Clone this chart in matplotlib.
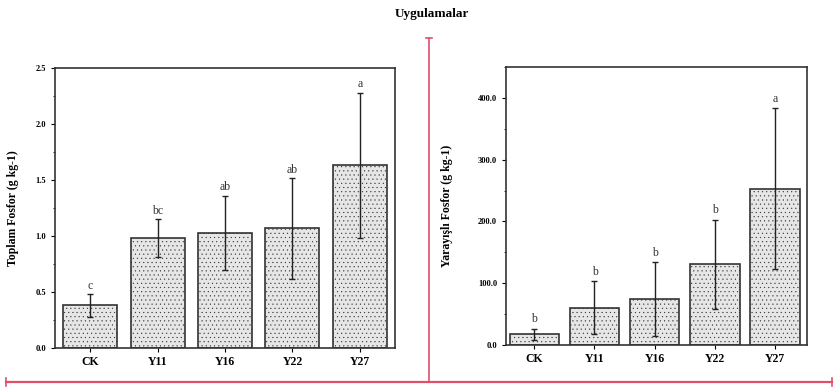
import matplotlib.pyplot as plt
from matplotlib.lines import Line2D
from matplotlib.ticker import MultipleLocator, FormatStrFormatter

plt.rcParams['font.family'] = ['Liberation Serif', 'DejaVu Serif']
plt.rcParams['font.weight'] = 'bold'
plt.rcParams['hatch.color'] = '#c4c4c4'
plt.rcParams['hatch.linewidth'] = 0.3

groups = ['CK', 'Y11', 'Y16', 'Y22', 'Y27']

# Toplam Fosfor
tp_mean = [0.38, 0.98, 1.03, 1.07, 1.63]
tp_err = [0.10, 0.17, 0.33, 0.45, 0.65]
tp_letters = ['c', 'bc', 'ab', 'ab', 'a']

# Yarayisli Fosfor
yp_mean = [17, 60, 74, 131, 253]
yp_err = [9, 43, 60, 72, 130]
yp_letters = ['b', 'b', 'b', 'b', 'a']

W, H = 835, 388
fig = plt.figure(figsize=(W / 100, H / 100), dpi=100)

ax1 = fig.add_axes([55 / W, 1 - 348 / H, 340 / W, 280 / H])
ax2 = fig.add_axes([506 / W, 1 - 345 / H, 301 / W, 278 / H])

red = '#e0506a'


def draw_panel(ax, mean, err, letters, ylim, major, minor, fmt, ylabel, pad, width, xlim):
    x = range(1, len(groups) + 1)
    ax.bar(x, mean, width=width, color='#e6e6e6', edgecolor='#333333',
           linewidth=1.2, hatch='....')
    ax.errorbar(x, mean, yerr=err, fmt='none', ecolor='#222222',
                elinewidth=1.0, capsize=2.5, capthick=1.0)
    for xi, m, e, t in zip(x, mean, err, letters):
        ax.text(xi, m + e + pad, t, ha='center', va='bottom', fontsize=8.5,
                fontweight='normal', color='#333333')
    ax.set_xlim(*xlim)
    ax.set_ylim(*ylim)
    ax.set_xticks(list(x))
    ax.set_xticklabels(groups, fontsize=8.5, fontweight='bold')
    ax.yaxis.set_major_locator(MultipleLocator(major))
    ax.yaxis.set_minor_locator(MultipleLocator(minor))
    ax.yaxis.set_major_formatter(FormatStrFormatter(fmt))
    ax.tick_params(axis='y', labelsize=6, length=3, width=0.8)
    ax.tick_params(axis='y', which='minor', length=1.5, width=0.6)
    ax.tick_params(axis='x', length=3, width=0.8, pad=3)
    for s in ax.spines.values():
        s.set_linewidth(1.2)
        s.set_color('#333333')
    ax.set_ylabel(ylabel, fontsize=8.5, fontweight='bold')


draw_panel(ax1, tp_mean, tp_err, tp_letters, (0, 2.5), 0.5, 0.25, '%.1f',
           'Toplam Fosfor (g kg-1)', 0.02, 0.8, (0.48, 5.52))
draw_panel(ax2, yp_mean, yp_err, yp_letters, (0, 450), 100, 50, '%.1f',
           'Yarayışlı Fosfor (g kg-1)', 6, 0.82, (0.53, 5.53))
ax1.yaxis.set_label_coords(-0.105, 0.5)
ax2.yaxis.set_label_coords(-0.175, 0.5)

fig.text(432 / W, 1 - 14 / H, 'Uygulamalar', ha='center', va='center',
         fontsize=9.5, fontweight='bold')

# red frame lines
fig.add_artist(Line2D([429 / W, 429 / W], [1 - 38 / H, 1 - 382 / H],
                      color=red, lw=1.2))
fig.add_artist(Line2D([426 / W, 432 / W], [1 - 38 / H, 1 - 38 / H],
                      color=red, lw=1.2))
fig.add_artist(Line2D([6 / W, 832 / W], [1 - 382 / H, 1 - 382 / H],
                      color=red, lw=1.6))
fig.add_artist(Line2D([6 / W, 6 / W], [1 - 378 / H, 1 - 386 / H],
                      color=red, lw=1.2))
fig.add_artist(Line2D([832 / W, 832 / W], [1 - 378 / H, 1 - 386 / H],
                      color=red, lw=1.2))

fig.savefig('out.png', dpi=100)
